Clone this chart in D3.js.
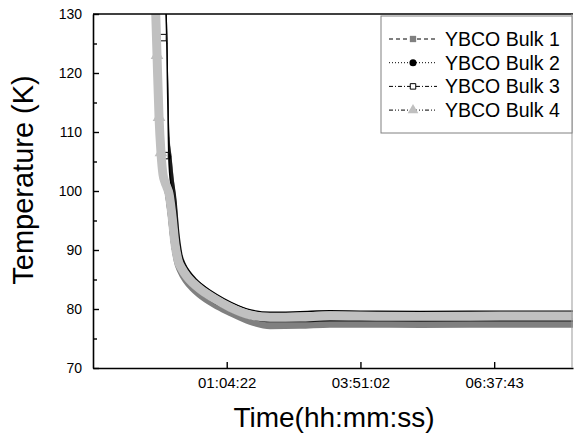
<!DOCTYPE html>
<html>
<head>
<meta charset="utf-8">
<script src="https://cdn.jsdelivr.net/npm/d3@7"></script>
<style>
  body { margin: 0; background: #fff; }
  svg { font-family: "Liberation Sans", Arial, sans-serif; }
</style>
</head>
<body>
<div id="chart"></div>
<script>
const width = 575,
height = 434;

// clock time in seconds from midnight (negative = before midnight)
const times = [-1650, -1500, -1350, -1200, -1055, -905, -755, -605, -455, -230, -5, 220, 515, 890,
  1340, 1865, 2985, 4105, 5600, 7100, 9340, 11585, 13830, 18315, 24295, 29755];

const bulk1 = [170, 160, 152, 145, 138, 124, 109.5, 106, 102.5, 98, 92, 88.3, 86.4, 84.9,
  83.7, 82.6, 80.9, 79.6, 78.1, 77.35, 77.4, 77.6, 77.6, 77.55, 77.6, 77.6];
const bulk2 = [170, 160, 152, 146, 140, 125, 109, 105.8, 102.3, 98.6, 92.8, 89.2, 87.3, 85.9,
  84.7, 83.6, 81.7, 80.4, 79.1, 78.5, 78.5, 78.65, 78.65, 78.6, 78.65, 78.65];
const bulk3 = [160, 150, 142, 136, 134, 126, 106, 101.2, 100.0, 96.3, 91.6, 88.7, 87.1, 85.8,
  84.6, 83.6, 81.9, 80.5, 79.2, 78.8, 78.9, 79.05, 79.0, 78.95, 79.0, 79.0];
const bulk4 = [145, 134, 123, 112.5, 106.5, 102.8, 101.5, 100.6, 99.6, 95.8, 91.0, 88.3, 86.8, 85.5,
  84.4, 83.4, 81.7, 80.3, 79.0, 78.6, 78.65, 78.85, 78.8, 78.75, 78.8, 78.8];

const seriesNames = ["YBCO Bulk 1", "YBCO Bulk 2", "YBCO Bulk 3", "YBCO Bulk 4"];
const yTicks = [70, 80, 90, 100, 110, 120, 130];
const yMinor = [75, 85, 95, 105, 115, 125];
const timeTicks = [3862, 13862, 23863];

const margin = {top: 14, right: 2, bottom: 66, left: 93};

const styles = [
  {band: "#808080", fill: "#808080", stroke: "none", shape: d3.symbolSquare, size: 40, dash: "4,3"},
  {band: "#1a1a1a", fill: "#000000", stroke: "none", shape: d3.symbolCircle, size: 40, dash: "1,2"},
  {band: "#000000", inner: "#ffffff", fill: "#ffffff", stroke: "#000", shape: d3.symbolSquare, size: 30, dash: "4,2,1,2"},
  {band: "#c0c0c0", fill: "#c0c0c0", stroke: "none", shape: d3.symbolTriangle, size: 50, dash: "4,2,1,2,1,2"}
];

function fmtTime(s){
  s = ((Math.round(s) % 86400) + 86400) % 86400
  var h = Math.floor(s / 3600), m = Math.floor((s % 3600) / 60), sec = s % 60
  return [h, m, sec].map(v => String(v).padStart(2, "0")).join(":")
}

let svg = d3.select("#chart").append("svg")
  .attr("width", width).attr("height", height)

let x = d3.scaleLinear().domain([-6138, 29758]).range([margin.left, width - margin.right])
let y = d3.scaleLinear().domain([70, 130]).range([height - margin.bottom, margin.top])

svg.append("clipPath").attr("id", "plotClip")
  .append("rect")
  .attr("x", x.range()[0]).attr("y", y.range()[1])
  .attr("width", x.range()[1] - x.range()[0]).attr("height", y.range()[0] - y.range()[1])

const series = [bulk1, bulk2, bulk3, bulk4].map(function(vals, i){
  return { name: seriesNames[i], style: styles[i], values: vals.map((v, j) => ({t: times[j], temp: v})) }
})

let line = d3.line()
  .x(d => x(d.t))
  .y(d => y(d.temp))
  .curve(d3.curveMonotoneX)

let plot = svg.append("g").attr("clip-path", "url(#plotClip)")

series.forEach(function(s){
  plot.append("path")
    .attr("d", line(s.values))
    .attr("fill", "none")
    .attr("stroke", s.style.band)
    .attr("stroke-width", 9)
    .attr("stroke-linejoin", "round")

  if(s.style.inner){
    plot.append("path")
      .attr("d", line(s.values))
      .attr("fill", "none")
      .attr("stroke", s.style.inner)
      .attr("stroke-width", 6)
      .attr("stroke-linejoin", "round")
  }

  // markers stand out only on the fast cooling part
  plot.selectAll(null)
    .data(s.values.filter(d => d.temp > 105))
    .join("path")
    .attr("transform", d => "translate(" + x(d.t) + "," + y(d.temp) + ")")
    .attr("d", d3.symbol().type(s.style.shape).size(s.style.size * 1.4))
    .attr("fill", s.style.fill)
    .attr("stroke", s.style.stroke)
})

// axes
let yAxis = svg.append("g")
  .attr("transform", "translate(" + margin.left + ",0)")
  .call(d3.axisLeft(y).tickValues(yTicks).tickSizeInner(-6).tickSizeOuter(0).tickPadding(11))

svg.append("g")
  .attr("transform", "translate(" + margin.left + ",0)")
  .call(d3.axisLeft(y).tickValues(yMinor).tickSize(-4).tickFormat(""))
  .call(g => g.select(".domain").remove())

let xAxis = svg.append("g")
  .attr("transform", "translate(0," + y(70) + ")")
  .call(d3.axisBottom(x).tickValues(timeTicks).tickSizeInner(-6).tickSizeOuter(0).tickPadding(9).tickFormat(fmtTime))

svg.selectAll(".domain").attr("stroke", "#000").attr("stroke-width", 1.6)
svg.selectAll(".tick line").attr("stroke", "#000").attr("stroke-width", 1.4)
yAxis.selectAll("text").attr("font-size", 14).attr("fill", "#000").attr("font-family", null)
xAxis.selectAll("text").attr("font-size", 15).attr("fill", "#000").attr("font-family", null)

// top and right frame
svg.append("line")
  .attr("x1", x.range()[0]).attr("x2", x.range()[1])
  .attr("y1", y(130)).attr("y2", y(130))
  .attr("stroke", "#000").attr("stroke-width", 1.6)
svg.append("line")
  .attr("x1", x.range()[1] - 1).attr("x2", x.range()[1] - 1)
  .attr("y1", y(130)).attr("y2", y(70))
  .attr("stroke", "#999").attr("stroke-width", 1)

// titles
svg.append("text")
  .attr("x", 334).attr("y", 427)
  .attr("text-anchor", "middle")
  .attr("font-size", 28)
  .text("Time(hh:mm:ss)")

svg.append("text")
  .attr("transform", "translate(33,180) rotate(-90)")
  .attr("text-anchor", "middle")
  .attr("font-size", 29)
  .text("Temperature (K)")

// legend
let legend = svg.append("g").attr("transform", "translate(381,16)")
legend.append("rect")
  .attr("width", 191).attr("height", 117)
  .attr("fill", "#fff").attr("stroke", "#808080")

let rows = legend.selectAll(".row")
  .data(series)
  .join("g")
  .attr("class", "row")
  .attr("transform", (d, i) => "translate(0," + (23 + i * 23.7) + ")")

rows.append("line")
  .attr("x1", 8).attr("x2", 56)
  .attr("stroke", "#000").attr("stroke-width", 1)
  .attr("stroke-dasharray", d => d.style.dash)

rows.append("path")
  .attr("transform", "translate(32,0)")
  .attr("d", d => d3.symbol().type(d.style.shape).size(d.style.size)())
  .attr("fill", d => d.style.fill)
  .attr("stroke", d => d.style.stroke)

rows.append("text")
  .attr("x", 64)
  .attr("dy", "0.35em")
  .attr("font-size", 19.5)
  .text(d => d.name)
</script>
</body>
</html>
